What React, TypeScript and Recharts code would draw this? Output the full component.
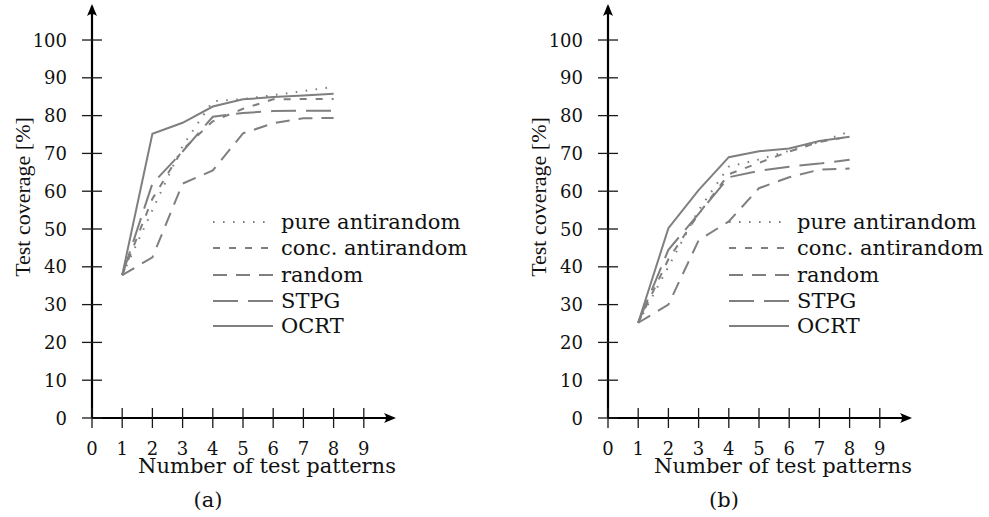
import React from 'react';
import { LineChart, Line, XAxis, YAxis, ReferenceDot } from 'recharts';

const patterns = [1, 2, 3, 4, 5, 6, 7, 8];
const xTicks = [0, 1, 2, 3, 4, 5, 6, 7, 8, 9];
const yTicks = [0, 10, 20, 30, 40, 50, 60, 70, 80, 90, 100];

// (a)
const pureA = [37.8, 55, 72, 83.8, 84.4, 85.4, 86.5, 87.6];
const concA = [37.8, 58, 71, 78.5, 81.8, 84.3, 84.4, 84.4];
const randomA = [37.8, 42.5, 62, 65.5, 75.3, 78, 79.3, 79.4];
const stpgA = [37.8, 62, 70.5, 79.7, 80.7, 81.2, 81.3, 81.3];
const ocrtA = [37.8, 75.2, 78.1, 82.4, 84.3, 84.9, 85.3, 85.8];

// (b)
const pureB = [25.2, 40, 55, 66.5, 68.4, 70.7, 73, 75.8];
const concB = [25.2, 42, 54, 64.5, 67.5, 70.5, 73, 74.5];
const randomB = [25.2, 30, 47, 52, 60.8, 63.7, 65.7, 66];
const stpgB = [25.2, 44.5, 54, 63.7, 65.4, 66.5, 67.3, 68.3];
const ocrtB = [25.2, 50.2, 60.3, 69, 70.6, 71.3, 73.3, 74.4];

const seriesKeys = ['pure', 'conc', 'random', 'stpg', 'ocrt'];
const seriesNames = ['pure antirandom', 'conc. antirandom', 'random', 'STPG', 'OCRT'];
const seriesDash = ['1.6 8.4', '7 9', '14 9', '25 10', ''];

const GRAY = '#7f7f7f';
const SERIF_W = { fontFamily: 'DejaVu Serif, Liberation Serif, serif' };
const SERIF_N = { fontFamily: 'Liberation Serif, DejaVu Serif, serif' };

function buildRows(lists: number[][]) {
  return patterns.map((x, i) => {
    const r: any = { x };
    seriesKeys.forEach((k, j) => {
      r[k] = lists[j][i];
    });
    return r;
  });
}

const rowsA = buildRows([pureA, concA, randomA, stpgA, ocrtA]);
const rowsB = buildRows([pureB, concB, randomB, stpgB, ocrtB]);

const XTick = (props: any) => {
  const { x, y, payload } = props;
  return (
    <g>
      <line x1={x} x2={x} y1={y - 10} y2={y + 10} stroke="#1a1a1a" strokeWidth={1.3} />
      <text x={x} y={y + 37} textAnchor="middle" style={SERIF_W} fontSize={18} fill="#111">
        {payload.value}
      </text>
    </g>
  );
};

const YTick = (props: any) => {
  const { x, y, payload } = props;
  return (
    <g>
      <line x1={x - 10} x2={x + 10} y1={y} y2={y} stroke="#1a1a1a" strokeWidth={1.3} />
      <text x={x - 25} y={y + 6.5} textAnchor="end" style={SERIF_W} fontSize={18} fill="#111">
        {payload.value}
      </text>
    </g>
  );
};

const ArrowRight = (p: any) => {
  const { cx, cy } = p;
  return (
    <path
      d={`M ${cx + 2} ${cy} L ${cx - 10} ${cy - 5} Q ${cx - 6} ${cy} ${cx - 10} ${cy + 5} Z`}
      fill="#000"
    />
  );
};

const ArrowUp = (p: any) => {
  const { cx, cy } = p;
  return (
    <path
      d={`M ${cx} ${cy - 2} L ${cx - 5} ${cy + 10} Q ${cx} ${cy + 6} ${cx + 5} ${cy + 10} Z`}
      fill="#000"
    />
  );
};

const Panel = ({ rows, left }: { rows: any[]; left: number }) => (
  <div style={{ position: 'absolute', left, top: 0 }}>
    <LineChart width={420} height={517} data={rows} margin={{ top: 6, right: 26, bottom: 0, left: 0 }}>
      <XAxis
        dataKey="x"
        type="number"
        domain={[0, 10]}
        ticks={xTicks}
        interval={0}
        height={99}
        tickSize={0}
        tickMargin={0}
        tickLine={false}
        axisLine={{ stroke: '#000', strokeWidth: 2.2 }}
        tick={(p: any) => <XTick {...p} />}
      />
      <YAxis
        type="number"
        domain={[0, 109]}
        ticks={yTicks}
        interval={0}
        width={92}
        tickSize={0}
        tickMargin={0}
        tickLine={false}
        axisLine={{ stroke: '#000', strokeWidth: 2.2 }}
        tick={(p: any) => <YTick {...p} />}
      />
      {seriesKeys.map((k, i) => (
        <Line
          key={k}
          dataKey={k}
          type="linear"
          stroke={GRAY}
          strokeWidth={2}
          strokeDasharray={seriesDash[i] || undefined}
          dot={false}
          activeDot={false}
          isAnimationActive={false}
        />
      ))}
      <ReferenceDot x={10} y={0} ifOverflow="visible" shape={(p: any) => <ArrowRight {...p} />} />
      <ReferenceDot x={0} y={109} ifOverflow="visible" shape={(p: any) => <ArrowUp {...p} />} />
    </LineChart>
  </div>
);

const legendRows = [222, 248, 275, 301, 326];

const Overlay = ({ dx, caption }: { dx: number; caption: string }) => (
  <g>
    <text
      transform={`translate(${30 + dx}, 197) rotate(-90)`}
      textAnchor="middle"
      style={SERIF_N}
      fontSize={22}
      fill="#111"
    >
      Test coverage [%]
    </text>
    <text x={267 + dx} y={473} textAnchor="middle" style={SERIF_W} fontSize={21} fill="#111">
      Number of test patterns
    </text>
    <text x={208 + dx} y={507} textAnchor="middle" style={SERIF_W} fontSize={21} fill="#111">
      {caption}
    </text>
    {seriesNames.map((name, i) => (
      <g key={name}>
        <line
          x1={213 + dx}
          x2={273 + dx}
          y1={legendRows[i]}
          y2={legendRows[i]}
          stroke={GRAY}
          strokeWidth={2}
          strokeDasharray={seriesDash[i] || undefined}
        />
        <text x={281 + dx} y={legendRows[i] + 7} style={SERIF_W} fontSize={21} fill="#111">
          {name}
        </text>
      </g>
    ))}
  </g>
);

export default function App() {
  return (
    <div style={{ position: 'absolute', left: 0, top: 0, width: 989, height: 517, background: '#fff' }}>
      <Panel rows={rowsA} left={0} />
      <Panel rows={rowsB} left={516} />
      <svg
        width={989}
        height={517}
        style={{ position: 'absolute', left: 0, top: 0, pointerEvents: 'none' }}
      >
        <Overlay dx={0} caption="(a)" />
        <Overlay dx={516} caption="(b)" />
      </svg>
    </div>
  );
}
